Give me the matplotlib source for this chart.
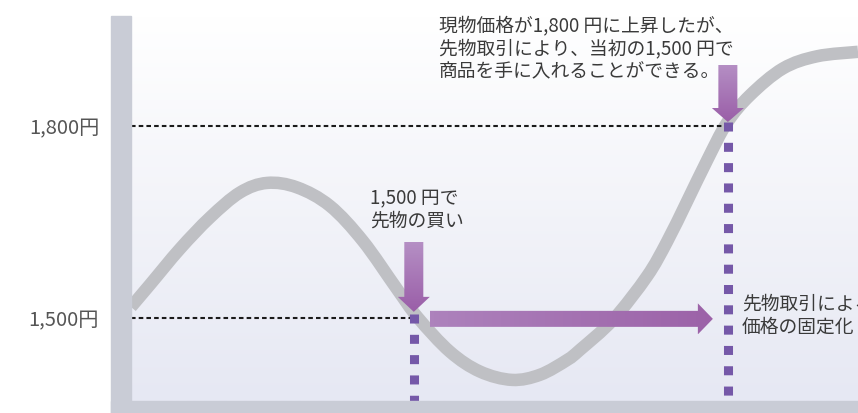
import numpy as np
import matplotlib.pyplot as plt
from matplotlib.patches import Polygon, Rectangle, PathPatch
from matplotlib.path import Path
from matplotlib.colors import LinearSegmentedColormap

plt.rcParams['font.family'] = ['Noto Sans CJK JP', 'DejaVu Sans']

# price path (time 0-100, yen)
t_vals = [0.0, 2.61, 6.74, 10.87, 14.99, 18.71, 22.83, 27.37, 31.91, 36.59,
          39.48, 43.88, 48.01, 52.41, 56.26, 59.97, 61.76, 66.30, 70.98,
          73.73, 76.48, 79.23, 81.98, 85.14, 89.68, 94.36, 100.0]
price_vals = [1517, 1552, 1608, 1657, 1696, 1711, 1704, 1675, 1620, 1545,
              1500, 1447, 1416, 1403, 1411, 1434, 1450, 1497, 1565,
              1619, 1682, 1746, 1805, 1848, 1890, 1909, 1916]

price_levels = [1500, 1800]
tick_labels = ['1,500円', '1,800円']
buy_t = 38.9      # futures bought at 1,500
settle_t = 82.1   # spot reaches 1,800

note_top = '現物価格が1,800 円に上昇したが、\n先物取引により、当初の1,500 円で\n商品を手に入れることができる。'
note_buy = '1,500 円で\n先物の買い'
note_fix = '先物取引による\n価格の固定化'

W, H = 858, 413
fig = plt.figure(figsize=(W / 100, H / 100), dpi=100)
ax = fig.add_axes([131 / W, 12 / H, 727 / W, 385 / H])
x0, x1, y0, y1 = 0, 100, 1370, 1972
sx = 727 / (x1 - x0)   # px per time unit
sy = 385 / (y1 - y0)   # px per yen

# background gradient
bg = LinearSegmentedColormap.from_list('bg', ['#e6e8f3', '#ffffff'])
ax.imshow(np.linspace(0, 1, 256).reshape(-1, 1), extent=[x0, x1, y0, y1],
          aspect='auto', cmap=bg, origin='lower', zorder=0)


def smooth_path(xs, ys):
    # Catmull-Rom through the read points, drawn as cubic Bezier segments
    p = np.column_stack([xs, ys]).astype(float)
    p = np.vstack([p[0], p, p[-1]])
    verts, codes = [p[1]], [Path.MOVETO]
    for i in range(1, len(p) - 2):
        c1 = p[i] + (p[i + 1] - p[i - 1]) / 6
        c2 = p[i + 1] - (p[i + 2] - p[i]) / 6
        verts += [c1, c2, p[i + 1]]
        codes += [Path.CURVE4] * 3
    return Path(verts, codes)


ax.add_patch(PathPatch(smooth_path(t_vals, price_vals), fill=False,
                       edgecolor='#bfc0c4', lw=9, capstyle='butt', zorder=2))

# dashed reference lines
ax.plot([x0, buy_t], [price_levels[0]] * 2, color='#1a1a1a', lw=1.5,
        linestyle=(0, (2.2, 1.5)), zorder=3)
ax.plot([x0, settle_t], [price_levels[1]] * 2, color='#1a1a1a', lw=1.5,
        linestyle=(0, (2.2, 1.5)), zorder=3)

# purple square dotted verticals
for t, p in [(buy_t, price_levels[0]), (settle_t, price_levels[1])]:
    ax.plot([t, t], [p + 4 / sy, y0], color='#7558a8', lw=6.5,
            linestyle=(0, (1.0, 1.25)), dash_capstyle='butt', zorder=4)


def grad_arrow(tip_x, tip_y, direction, length, shaft, head_w, head_len, c0, c1):
    dx, dy = 1 / sx, 1 / sy
    if direction == 'down':
        b = tip_y + head_len * dy
        top = tip_y + length * dy
        pts = [(tip_x, tip_y), (tip_x - head_w / 2 * dx, b), (tip_x - shaft / 2 * dx, b),
               (tip_x - shaft / 2 * dx, top), (tip_x + shaft / 2 * dx, top),
               (tip_x + shaft / 2 * dx, b), (tip_x + head_w / 2 * dx, b)]
        img = np.linspace(1, 0, 64).reshape(-1, 1)
        ext = [tip_x - head_w / 2 * dx, tip_x + head_w / 2 * dx, tip_y, top]
    else:
        b = tip_x - head_len * dx
        tail = tip_x - length * dx
        pts = [(tip_x, tip_y), (b, tip_y + head_w / 2 * dy), (b, tip_y + shaft / 2 * dy),
               (tail, tip_y + shaft / 2 * dy), (tail, tip_y - shaft / 2 * dy),
               (b, tip_y - shaft / 2 * dy), (b, tip_y - head_w / 2 * dy)]
        img = np.linspace(0, 1, 64).reshape(1, -1)
        ext = [tail, tip_x, tip_y - head_w / 2 * dy, tip_y + head_w / 2 * dy]
    poly = Polygon(pts, closed=True, facecolor='none', edgecolor='none')
    ax.add_patch(poly)
    cm = LinearSegmentedColormap.from_list('a', [c0, c1])
    im = ax.imshow(img, extent=ext, aspect='auto', cmap=cm, origin='lower', zorder=5)
    im.set_clip_path(poly)


grad_arrow(buy_t, price_levels[0] + 6 / sy, 'down', 70, 19, 32, 15, '#b58fc4', '#9a5ea8')
grad_arrow(settle_t, price_levels[1] + 4 / sy, 'down', 57, 19, 32, 14, '#b58fc4', '#9a5ea8')
grad_arrow(settle_t - 15 / sx, price_levels[0] - 1 / sy, 'right', 283, 16, 31, 15,
           '#ad82bc', '#9c62a8')

ax.set_xlim(x0, x1)
ax.set_ylim(y0, y1)
ax.set_xticks([])
ax.set_yticks(price_levels, labels=tick_labels)
ax.tick_params(axis='y', length=0, pad=23, labelsize=14.5, labelcolor='#555555')
for s in ax.spines.values():
    s.set_visible(False)

# gray frame bars
fig.patches.append(Rectangle((111 / W, 0), 20 / W, 397 / H, transform=fig.transFigure,
                             color='#c9ccd6', zorder=1))
fig.patches.append(Rectangle((111 / W, 0), 747 / W, 12 / H, transform=fig.transFigure,
                             color='#c9ccd6', zorder=1))

txt = dict(fontsize=13.5, color='#3a3a3a', va='center', ha='left', linespacing=1.12)
fig.text(439 / W, 1 - 49 / H, note_top, **txt)
fig.text(370 / W, 1 - 210 / H, note_buy, **txt)
fig.text(742 / W, 1 - 315.5 / H, note_fix, **txt)

fig.savefig('out.png', dpi=100)
